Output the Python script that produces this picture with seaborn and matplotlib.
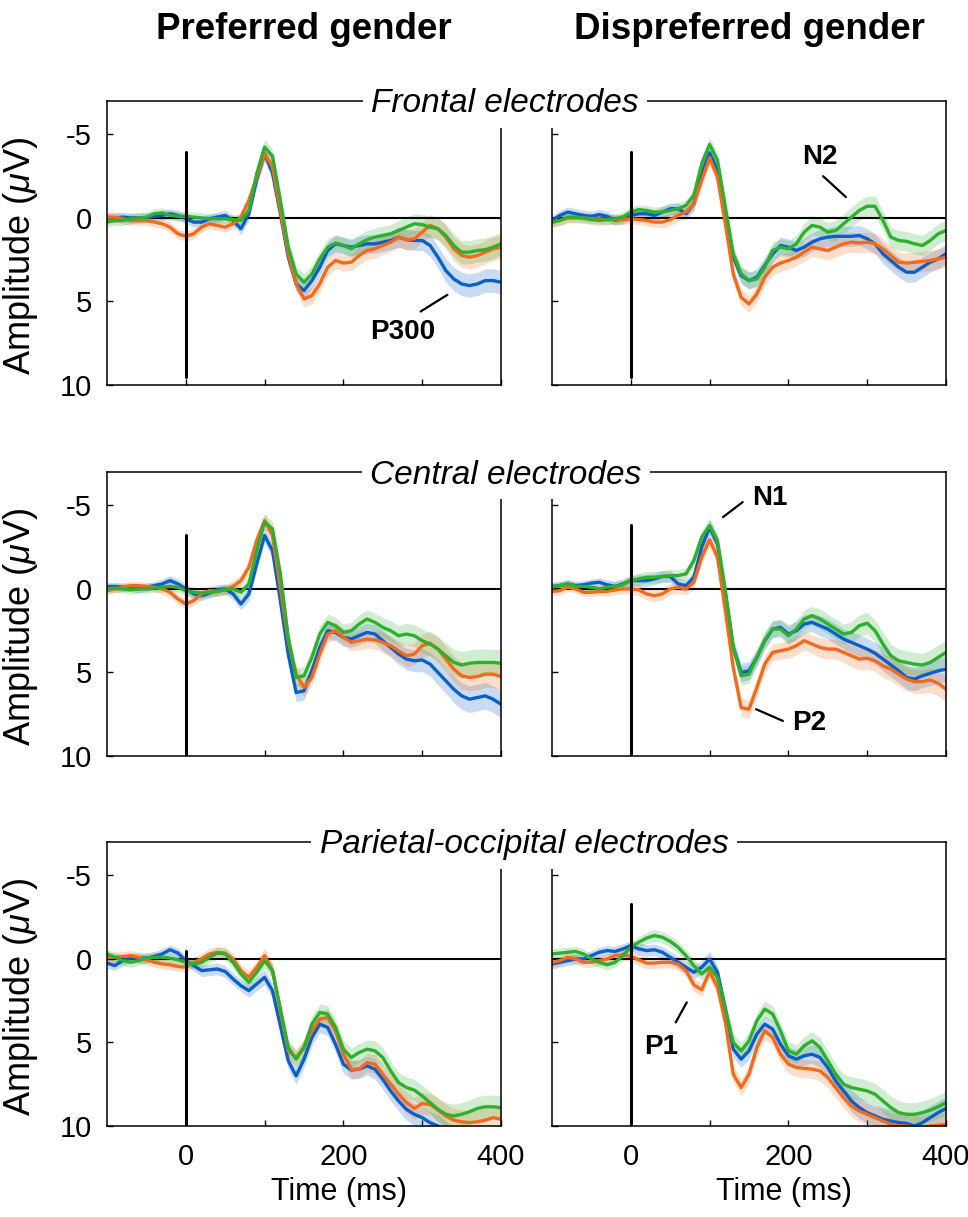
import numpy as np
import pandas as pd
import matplotlib
matplotlib.use("Agg")
import matplotlib.pyplot as plt
import seaborn as sns

# time axis of the averaged ERPs (ms), one sample per 10 ms
time_ms = np.arange(-100, 401, 10)

# ---- Frontal electrodes ----
frontal_pref_blue = [0.0, 0.0, -0.05, 0.0, 0.0, 0.0, -0.1, -0.15, -0.25, -0.15,
                     0.05, 0.25, 0.25, 0.05, -0.05, -0.15, 0.15, 0.65, -0.25, -2.3,
                     -3.85, -2.7, -0.25, 2.35, 3.95, 4.35, 3.75, 2.95, 1.95, 1.55,
                     1.65, 1.75, 1.65, 1.55, 1.55, 1.45, 1.35, 1.15, 1.3, 1.35,
                     1.35, 1.65, 2.35, 3.15, 3.65, 3.95, 4.05, 3.95, 3.75, 3.75, 3.85]
frontal_pref_orange = [-0.05, -0.05, 0.05, 0.15, 0.15, 0.15, 0.25, 0.35, 0.55, 0.95,
                       1.1, 0.95, 0.55, 0.35, 0.45, 0.55, 0.35, -0.05, -1.05, -2.45,
                       -3.85, -3.05, -0.45, 2.15, 3.95, 4.85, 4.65, 3.95, 2.95, 2.55,
                       2.7, 2.65, 2.25, 1.95, 1.85, 1.65, 1.45, 1.15, 1.3, 1.25,
                       0.85, 0.45, 0.65, 1.15, 1.85, 2.25, 2.35, 2.25, 2.05, 1.85, 1.75]
frontal_pref_green = [0.25, 0.15, 0.15, 0.05, 0.0, -0.05, -0.25, -0.3, -0.15, -0.1,
                      -0.1, -0.05, 0.0, 0.05, 0.05, 0.05, 0.1, 0.15, -0.45, -2.65,
                      -4.25, -3.7, -1.05, 1.75, 3.35, 3.85, 3.35, 2.45, 1.75, 1.5,
                      1.65, 1.85, 1.55, 1.3, 1.15, 1.05, 0.95, 0.75, 0.55, 0.35,
                      0.4, 0.55, 0.65, 1.05, 1.65, 2.05, 2.05, 1.95, 1.9, 1.75, 1.55]
frontal_pref_se = [0.3, 0.3, 0.3, 0.3, 0.3, 0.3, 0.3, 0.3, 0.3, 0.3,
                   0.3, 0.3, 0.3, 0.3, 0.3, 0.3, 0.3, 0.35, 0.4, 0.4,
                   0.45, 0.45, 0.45, 0.45, 0.45, 0.5, 0.5, 0.5, 0.5, 0.5,
                   0.5, 0.5, 0.55, 0.55, 0.55, 0.55, 0.55, 0.6, 0.6, 0.6,
                   0.6, 0.65, 0.65, 0.7, 0.7, 0.7, 0.7, 0.7, 0.7, 0.7, 0.7]

frontal_dis_blue = [0.15, -0.15, -0.35, -0.25, -0.15, -0.1, -0.2, -0.1, 0.15, 0.05,
                    -0.15, -0.25, -0.25, -0.15, -0.35, -0.55, -0.55, -0.25, -0.85, -2.65,
                    -3.9, -2.85, -0.25, 2.35, 3.45, 3.75, 3.55, 2.85, 2.15, 1.65,
                    1.75, 1.95, 1.75, 1.45, 1.25, 1.15, 1.1, 1.1, 1.1, 1.05,
                    1.25, 1.55, 2.15, 2.55, 2.95, 3.25, 3.25, 2.95, 2.65, 2.45, 2.15]
frontal_dis_orange = [0.25, 0.15, 0.0, 0.0, 0.0, 0.05, 0.05, 0.1, 0.1, 0.1,
                      0.05, 0.1, 0.15, 0.25, 0.25, 0.1, -0.15, -0.35, -0.85, -2.25,
                      -3.6, -2.45, 0.35, 3.35, 4.75, 5.15, 4.55, 3.55, 2.95, 2.7,
                      2.55, 2.35, 2.05, 1.75, 1.85, 1.95, 1.75, 1.55, 1.45, 1.5,
                      1.45, 1.55, 1.85, 2.25, 2.65, 2.7, 2.65, 2.6, 2.55, 2.45, 2.35]
frontal_dis_green = [0.25, 0.15, -0.05, -0.05, 0.0, 0.1, 0.15, 0.1, 0.05, -0.05,
                     -0.35, -0.5, -0.45, -0.35, -0.35, -0.45, -0.55, -0.75, -1.35, -3.25,
                     -4.4, -3.45, -0.65, 2.15, 3.35, 3.75, 3.65, 2.95, 1.95, 1.75,
                     1.85, 1.55, 0.85, 0.45, 0.55, 0.85, 0.75, 0.35, -0.05, -0.45,
                     -0.7, -0.7, 0.15, 1.15, 1.35, 1.4, 1.55, 1.65, 1.35, 0.95, 0.75]
frontal_dis_se = [0.3, 0.3, 0.3, 0.3, 0.3, 0.3, 0.3, 0.3, 0.3, 0.3,
                  0.3, 0.3, 0.3, 0.3, 0.35, 0.35, 0.35, 0.35, 0.4, 0.4,
                  0.45, 0.45, 0.45, 0.45, 0.5, 0.5, 0.5, 0.5, 0.5, 0.5,
                  0.5, 0.5, 0.55, 0.55, 0.55, 0.55, 0.6, 0.6, 0.6, 0.6,
                  0.6, 0.6, 0.6, 0.6, 0.6, 0.6, 0.6, 0.6, 0.6, 0.6, 0.6]

# ---- Central electrodes ----
central_pref_blue = [-0.15, -0.15, -0.1, -0.1, 0.0, -0.1, -0.2, -0.3, -0.5, -0.3,
                     0.0, 0.3, 0.4, 0.25, 0.05, 0.0, 0.3, 0.9, 0.3, -1.5,
                     -3.2, -2.3, 0.7, 3.9, 6.2, 6.1, 4.9, 3.5, 2.5, 2.6,
                     2.9, 3.0, 2.8, 2.6, 2.7, 3.1, 3.5, 3.9, 4.2, 4.3,
                     4.25, 4.5, 5.0, 5.5, 6.0, 6.4, 6.6, 6.5, 6.4, 6.6, 6.9]
central_pref_orange = [0.1, 0.0, -0.1, -0.2, -0.2, -0.15, -0.1, 0.0, 0.2, 0.6,
                       0.9, 0.7, 0.3, 0.1, 0.15, 0.05, -0.15, -0.5, -1.3, -2.9,
                       -4.1, -3.2, -0.1, 3.1, 5.1, 5.9, 5.3, 3.9, 2.7, 2.5,
                       2.9, 3.2, 3.1, 3.0, 3.05, 3.2, 3.4, 3.7, 4.0, 3.9,
                       3.4, 3.25, 3.6, 4.2, 4.8, 5.2, 5.3, 5.25, 5.1, 5.1, 5.25]
central_pref_green = [0.0, -0.05, 0.0, 0.05, 0.0, 0.0, -0.05, -0.1, -0.15, -0.1,
                      0.1, 0.2, 0.25, 0.2, 0.15, 0.05, 0.0, 0.2, -0.3, -2.3,
                      -4.0, -3.6, -0.9, 2.9, 5.3, 5.2, 4.1, 2.7, 2.0, 2.2,
                      2.6, 2.5, 2.1, 1.8, 2.0, 2.3, 2.5, 2.8, 2.7, 2.8,
                      3.1, 3.3, 3.6, 4.0, 4.4, 4.55, 4.45, 4.4, 4.4, 4.4, 4.45]
central_pref_se = [0.25, 0.25, 0.25, 0.25, 0.25, 0.25, 0.25, 0.3, 0.3, 0.3,
                   0.3, 0.3, 0.3, 0.3, 0.3, 0.3, 0.35, 0.35, 0.4, 0.4,
                   0.45, 0.45, 0.5, 0.5, 0.55, 0.55, 0.5, 0.5, 0.5, 0.5,
                   0.5, 0.5, 0.55, 0.55, 0.55, 0.6, 0.6, 0.6, 0.65, 0.65,
                   0.7, 0.7, 0.75, 0.75, 0.8, 0.8, 0.8, 0.8, 0.8, 0.8, 0.8]

central_dis_blue = [-0.15, -0.2, -0.3, -0.2, -0.25, -0.35, -0.4, -0.25, -0.15, -0.3,
                    -0.5, -0.5, -0.5, -0.6, -0.75, -0.75, -0.3, -0.2, -0.7, -2.5,
                    -3.7, -2.7, 0.3, 3.5, 5.0, 4.9, 4.1, 3.1, 2.4, 2.3,
                    2.7, 2.5, 2.1, 2.0, 2.2, 2.4, 2.7, 3.0, 3.2, 3.4,
                    3.6, 3.85, 4.2, 4.55, 4.9, 5.3, 5.4, 5.2, 5.05, 4.9, 4.8]
central_dis_orange = [0.15, 0.1, -0.1, 0.0, 0.2, 0.2, 0.15, 0.15, 0.05, 0.0,
                      0.0, 0.05, 0.3, 0.4, 0.3, 0.0, -0.1, 0.0, -0.4, -1.9,
                      -2.95, -1.9, 1.3, 4.7, 7.1, 7.2, 5.9, 4.5, 3.8, 3.7,
                      3.6, 3.4, 3.1, 3.3, 3.5, 3.6, 3.6, 3.8, 4.0, 4.2,
                      4.15, 4.3, 4.6, 4.8, 5.1, 5.4, 5.55, 5.55, 5.45, 5.65, 6.0]
central_dis_green = [-0.1, -0.2, -0.3, -0.15, -0.15, -0.1, 0.0, -0.1, -0.15, -0.25,
                     -0.5, -0.6, -0.7, -0.7, -0.75, -0.8, -0.8, -0.9, -1.7, -3.1,
                     -3.8, -2.9, 0.1, 3.5, 5.2, 5.1, 4.1, 3.1, 2.4, 2.4,
                     2.8, 2.4, 1.8, 1.6, 1.8, 2.1, 2.4, 2.7, 2.6, 2.2,
                     2.05, 2.5, 3.3, 4.0, 4.3, 4.4, 4.5, 4.55, 4.4, 4.1, 3.8]
central_dis_se = [0.25, 0.25, 0.25, 0.25, 0.25, 0.25, 0.25, 0.3, 0.3, 0.3,
                  0.3, 0.35, 0.35, 0.35, 0.35, 0.35, 0.35, 0.35, 0.4, 0.4,
                  0.45, 0.45, 0.5, 0.5, 0.55, 0.55, 0.5, 0.5, 0.5, 0.5,
                  0.55, 0.55, 0.55, 0.55, 0.6, 0.6, 0.6, 0.6, 0.65, 0.65,
                  0.65, 0.65, 0.7, 0.7, 0.7, 0.7, 0.7, 0.7, 0.75, 0.75, 0.75]

# ---- Parietal-occipital electrodes ----
parietal_pref_blue = [0.25, 0.4, 0.1, -0.05, -0.05, -0.05, -0.15, -0.3, -0.55, -0.35,
                      0.1, 0.4, 0.7, 0.65, 0.6, 0.75, 1.2, 1.6, 1.9, 1.5,
                      1.1, 1.9, 4.0, 6.1, 7.0, 6.0, 4.7, 3.9, 4.1, 5.1,
                      6.3, 6.65, 6.6, 6.4, 6.6, 7.2, 7.9, 8.5, 9.0, 9.3,
                      9.5, 9.8, 10.0, 10.4, 10.8, 11.0, 11.1, 11.0, 10.9, 10.9, 10.9]
parietal_pref_orange = [-0.1, -0.1, -0.15, -0.2, -0.1, 0.05, 0.2, 0.3, 0.35, 0.45,
                        0.5, 0.2, 0.0, -0.3, -0.4, -0.35, 0.0, 0.7, 1.1, 0.5,
                        -0.2, 0.7, 3.1, 5.5, 5.9, 5.3, 4.3, 3.6, 3.5, 4.3,
                        5.7, 6.6, 6.6, 6.2, 6.3, 6.9, 7.5, 8.1, 8.6, 8.95,
                        8.65, 8.7, 9.05, 9.4, 9.65, 9.75, 9.8, 9.75, 9.65, 9.5, 9.6]
parietal_pref_green = [-0.3, -0.1, 0.1, 0.2, 0.1, -0.05, -0.1, -0.1, -0.05, 0.05,
                       0.2, 0.3, 0.2, -0.1, -0.35, -0.3, 0.2, 0.9, 1.4, 0.8,
                       0.1, 0.7, 3.0, 5.3, 6.0, 5.3, 3.9, 3.2, 3.3, 4.1,
                       5.4, 5.9, 5.6, 5.4, 5.5, 5.9, 6.7, 7.4, 7.7, 7.85,
                       8.2, 8.6, 9.0, 9.3, 9.4, 9.3, 9.15, 8.95, 8.85, 8.85, 8.9]
parietal_pref_se = [0.3, 0.3, 0.3, 0.3, 0.3, 0.3, 0.3, 0.3, 0.3, 0.3,
                    0.3, 0.3, 0.35, 0.35, 0.35, 0.35, 0.35, 0.35, 0.4, 0.4,
                    0.45, 0.45, 0.45, 0.5, 0.5, 0.5, 0.5, 0.5, 0.5, 0.5,
                    0.55, 0.55, 0.55, 0.55, 0.6, 0.6, 0.6, 0.6, 0.65, 0.65,
                    0.65, 0.65, 0.7, 0.7, 0.7, 0.7, 0.7, 0.7, 0.7, 0.7, 0.7]

parietal_dis_blue = [0.3, 0.2, 0.1, 0.0, 0.0, -0.2, -0.4, -0.5, -0.45, -0.6,
                     -0.8, -0.6, -0.5, -0.55, -0.4, -0.1, 0.2, 0.5, 0.8, 0.5,
                     0.0, 0.8, 3.0, 5.4, 6.0, 5.5, 4.5, 3.9, 4.2, 5.1,
                     5.8, 6.0, 5.8, 5.7, 5.9, 6.5, 7.3, 7.9, 8.5, 8.9,
                     9.2, 9.4, 9.6, 9.7, 9.8, 9.85, 10.0, 9.8, 9.5, 9.2, 8.95]
parietal_dis_orange = [0.2, 0.1, -0.1, 0.0, 0.2, 0.2, 0.1, 0.0, -0.2, -0.25,
                       -0.15, 0.05, 0.25, 0.25, 0.2, 0.2, 0.3, 0.7, 1.55, 1.85,
                       0.75, 1.7, 3.8, 6.9, 7.7, 6.9, 5.3, 4.3, 4.7, 5.7,
                       6.3, 6.5, 6.55, 6.6, 6.7, 7.1, 7.7, 8.3, 8.8, 9.1,
                       9.3, 9.5, 9.7, 9.9, 10.0, 10.0, 10.06, 10.1, 10.0, 9.95, 9.9]
parietal_dis_green = [-0.3, -0.35, -0.4, -0.45, -0.3, 0.0, 0.2, 0.35, 0.2, -0.2,
                      -0.7, -1.0, -1.25, -1.4, -1.3, -1.05, -0.7, -0.2, 0.4, 0.9,
                      0.5, 1.1, 3.0, 5.0, 5.5, 4.9, 3.7, 3.0, 3.3, 4.3,
                      5.5, 5.7, 5.2, 4.9, 5.3, 6.1, 6.9, 7.5, 7.7, 7.8,
                      7.9, 8.1, 8.5, 8.9, 9.2, 9.3, 9.3, 9.2, 9.05, 8.85, 8.6]
parietal_dis_se = [0.3, 0.3, 0.3, 0.3, 0.3, 0.3, 0.3, 0.3, 0.3, 0.3,
                   0.3, 0.35, 0.35, 0.35, 0.35, 0.35, 0.35, 0.35, 0.4, 0.4,
                   0.45, 0.45, 0.45, 0.5, 0.5, 0.5, 0.5, 0.5, 0.5, 0.5,
                   0.55, 0.55, 0.55, 0.55, 0.6, 0.6, 0.6, 0.6, 0.65, 0.65,
                   0.65, 0.65, 0.7, 0.7, 0.7, 0.7, 0.7, 0.7, 0.7, 0.7, 0.7]

column_titles = ["Preferred gender", "Dispreferred gender"]
row_titles = ["Frontal electrodes", "Central electrodes", "Parietal-occipital electrodes"]
conditions = ["blue", "orange", "green"]
palette = {"blue": "#0b5fc6", "orange": "#f26a1b", "green": "#2eb02e"}

# stimulus-onset marker extent (µV) per panel, row-major
onset_top = [-3.95, -3.95, -3.2, -3.8, -0.5, -3.3]
onset_bottom = [9.5, 9.5, 10, 10, 10, 10]

# component labels: panel index, text, text position, leader line
annot_labels = ["P300", "N2", "N1", "P2", "P1"]
annot_panel = [0, 1, 3, 3, 5]
annot_text_xy = [(275, 6.8), (240, -3.65), (176, -5.45), (226, 8.0), (38, 5.3)]
annot_line = [((298, 5.6), (332, 4.6)), ((244, -2.5), (273, -1.25)),
              ((117, -4.3), (142, -5.2)), ((159, 7.2), (193, 7.9)),
              ((57, 3.8), (71, 2.6))]

panel_series = [
    (frontal_pref_blue, frontal_pref_orange, frontal_pref_green, frontal_pref_se),
    (frontal_dis_blue, frontal_dis_orange, frontal_dis_green, frontal_dis_se),
    (central_pref_blue, central_pref_orange, central_pref_green, central_pref_se),
    (central_dis_blue, central_dis_orange, central_dis_green, central_dis_se),
    (parietal_pref_blue, parietal_pref_orange, parietal_pref_green, parietal_pref_se),
    (parietal_dis_blue, parietal_dis_orange, parietal_dis_green, parietal_dis_se),
]

sns.set_theme(style="ticks")
plt.rcParams["font.family"] = ["Liberation Sans", "DejaVu Sans"]
plt.rcParams["mathtext.fontset"] = "custom"
plt.rcParams["mathtext.it"] = "Liberation Sans:italic"
plt.rcParams["mathtext.rm"] = "Liberation Sans"
plt.rcParams["axes.unicode_minus"] = False
plt.rcParams["axes.linewidth"] = 1.1
plt.rcParams["axes.edgecolor"] = "black"
for key in ["text.color", "axes.labelcolor", "xtick.color", "ytick.color",
            "xtick.labelcolor", "ytick.labelcolor"]:
    plt.rcParams[key] = "black"

fig = plt.figure(figsize=(9.68, 12.17), dpi=100)
W, H = 968.0, 1217.0
col_left = [107, 552]
row_top = [101, 472, 842]
ax_w, ax_h = 394, 284

axes = []
for i, (blue, orange, green, se) in enumerate(panel_series):
    r, c = divmod(i, 2)
    ax = fig.add_axes([col_left[c] / W, 1 - (row_top[r] + ax_h) / H, ax_w / W, ax_h / H])
    axes.append(ax)
    se = np.array(se)
    df = pd.DataFrame({
        "time": np.tile(time_ms, 3),
        "amp": np.concatenate([blue, orange, green]),
        "cond": np.repeat(conditions, len(time_ms)),
    })
    for name, vals in zip(conditions, (blue, orange, green)):
        vals = np.array(vals)
        ax.fill_between(time_ms, vals - se, vals + se, color=palette[name],
                        alpha=0.22, lw=0, zorder=1)
    ax.axhline(0, color="black", lw=1.5, zorder=1.5)
    sns.lineplot(data=df, x="time", y="amp", hue="cond", hue_order=conditions,
                 palette=palette, legend=False, lw=2.4, errorbar=None, ax=ax, zorder=2)
    ax.plot([0, 0], [onset_top[i], onset_bottom[i]], color="black", lw=2.2, zorder=3)

    ax.set_xlim(-100, 400)
    ax.set_ylim(10, -7)
    ax.set_xticks([0, 200, 400])
    ax.set_xticks([100, 300], minor=True)
    ax.set_yticks([-5, 0, 5, 10])
    ax.tick_params(axis="both", which="both", direction="in", length=4, width=1,
                   labelsize=21, color="black", top=False, right=False)
    ax.tick_params(axis="x", pad=12)
    ax.tick_params(axis="y", pad=11)
    if r == 2:
        ax.set_xlabel("Time (ms)", fontsize=22)
        ax.xaxis.set_label_coords(0.59, -0.18)
    else:
        ax.set_xlabel("")
        ax.tick_params(labelbottom=False)
    if c == 0:
        ax.set_ylabel(r"Amplitude ($\mu$V)", fontsize=26)
        ax.yaxis.set_label_coords(-0.17, 0.455)
    else:
        ax.set_ylabel("")
        ax.tick_params(labelleft=False)
    for s in ax.spines.values():
        s.set_visible(True)
        s.set_color("black")

for lab, p, (tx, ty), (p0, p1) in zip(annot_labels, annot_panel, annot_text_xy, annot_line):
    ax = axes[p]
    ax.text(tx, ty, lab, fontsize=20, fontweight="bold", ha="center", va="center", zorder=6)
    ax.annotate("", xy=p1, xytext=p0,
                arrowprops=dict(arrowstyle="-", color="black", lw=1.6, shrinkA=0, shrinkB=0),
                zorder=6)

for c, title in enumerate(column_titles):
    cx = (col_left[c] + ax_w / 2) / W
    fig.text(cx, 1 - 39 / H, title, fontsize=26.5, fontweight="bold", ha="center", va="baseline")

row_title_x = [505, 506, 524]
for r, title in enumerate(row_titles):
    fig.text(row_title_x[r] / W, 1 - (row_top[r] + 11.5) / H, title, fontsize=24,
             style="italic", ha="center", va="baseline", zorder=10,
             bbox=dict(facecolor="white", edgecolor="none", boxstyle="square,pad=0.25"))

fig.savefig("out.png", dpi=100, facecolor="white")
